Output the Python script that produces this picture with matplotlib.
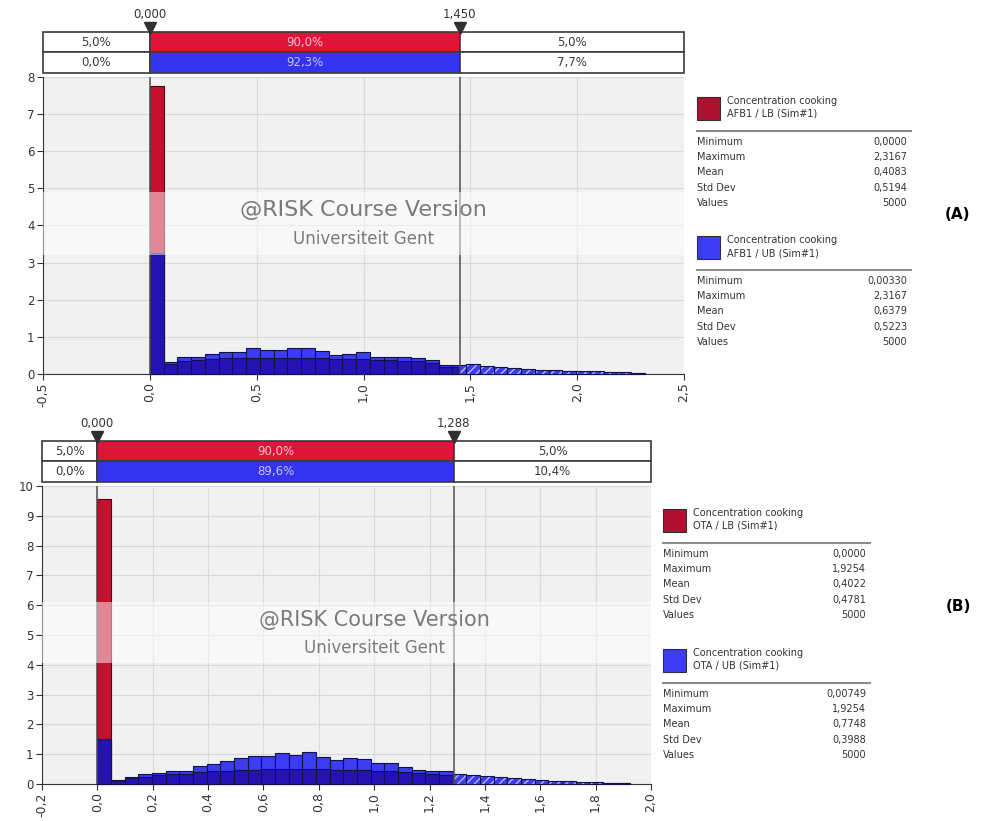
import numpy as np
import matplotlib.pyplot as plt
from matplotlib.patches import Rectangle
from matplotlib.transforms import blended_transform_factory

W, H = 982, 821

# (A) AFB1 - density per bin, 36 bins on [0, max]
afb1_max = 2.3167
afb1_ub = [3.25, 0.31, 0.47, 0.47, 0.53, 0.58, 0.58, 0.69, 0.65, 0.65, 0.69, 0.69,
           0.62, 0.50, 0.54, 0.58, 0.47, 0.47, 0.47, 0.42, 0.38, 0.24, 0.24,
           0.28, 0.22, 0.20, 0.16, 0.14, 0.12, 0.10, 0.09, 0.08, 0.07, 0.06, 0.05, 0.04]
afb1_lb = [7.75, 0.28, 0.36, 0.38, 0.40, 0.42, 0.42, 0.44, 0.44, 0.44, 0.44, 0.44,
           0.42, 0.40, 0.40, 0.40, 0.38, 0.38, 0.36, 0.34, 0.30, 0.20, 0.18,
           0.20, 0.16, 0.14, 0.12, 0.10, 0.09, 0.08, 0.07, 0.06, 0.05, 0.04, 0.03, 0.03]
afb1_cut = (0.000, 1.450)
afb1_lb_pct = ["5,0%", "90,0%", "5,0%"]
afb1_ub_pct = ["0,0%", "92,3%", "7,7%"]
afb1_stats_lb = ["0,0000", "2,3167", "0,4083", "0,5194", "5000"]
afb1_stats_ub = ["0,00330", "2,3167", "0,6379", "0,5223", "5000"]

# (B) OTA - density per bin, 39 bins on [0, max]
ota_max = 1.9254
ota_ub = [1.50, 0.13, 0.25, 0.32, 0.36, 0.43, 0.43, 0.60, 0.68, 0.78, 0.87, 0.94,
          0.94, 1.03, 0.97, 1.06, 0.92, 0.81, 0.88, 0.83, 0.71, 0.70, 0.57, 0.46, 0.42,
          0.42, 0.33, 0.30, 0.26, 0.22, 0.20, 0.16, 0.13, 0.11, 0.09, 0.07, 0.06, 0.04, 0.03]
ota_lb = [9.55, 0.10, 0.20, 0.25, 0.30, 0.35, 0.35, 0.40, 0.42, 0.45, 0.47, 0.48,
          0.50, 0.50, 0.50, 0.50, 0.50, 0.48, 0.48, 0.47, 0.45, 0.42, 0.40, 0.36, 0.32,
          0.30, 0.24, 0.22, 0.19, 0.16, 0.14, 0.12, 0.10, 0.08, 0.07, 0.05, 0.04, 0.03, 0.02]
ota_cut = (0.000, 1.288)
ota_lb_pct = ["5,0%", "90,0%", "5,0%"]
ota_ub_pct = ["0,0%", "89,6%", "10,4%"]
ota_stats_lb = ["0,0000", "1,9254", "0,4022", "0,4781", "5000"]
ota_stats_ub = ["0,00749", "1,9254", "0,7748", "0,3988", "5000"]

stat_names = ["Minimum", "Maximum", "Mean", "Std Dev", "Values"]

RED = "#c8102e"
RED_BAND = "#e0143a"
BLUE = "#3c3cf2"
BLUE_DARK = "#2412b4"
EDGE = "#12124a"
BG = "#f1f1f1"
GRID = "#d9d9d9"


def box(px_left, px_top, px_right, px_bottom):
    return [px_left / W, 1 - px_bottom / H, (px_right - px_left) / W, (px_bottom - px_top) / H]


def fmt(v, nd):
    return f"{v:.{nd}f}".replace(".", ",")


def clipped(ax, patches, x0, x1):
    for p in patches:
        clip = Rectangle((x0, -1), x1 - x0, 100, transform=ax.transData)
        p.set_clip_path(clip)


def histogram(ax, xmax_data, ub, lb, cut, xlim, ylim, xstep, wm):
    n = len(ub)
    edges = np.linspace(0, xmax_data, n + 1)
    w = edges[1] - edges[0]
    ub = np.array(ub)
    lb = np.array(lb)
    ax.set_facecolor(BG)
    ax.set_xlim(*xlim)
    ax.set_ylim(*ylim)

    ax.bar(edges[:-1], lb, width=w, align="edge", color=RED, edgecolor="#4a0010", lw=0.8, zorder=2)
    plain = ax.bar(edges[:-1], ub, width=w, align="edge", color=BLUE, edgecolor=EDGE, lw=0.8, zorder=3)
    clipped(ax, plain, xlim[0], cut[1])
    both = ax.bar(edges[:-1], np.minimum(ub, lb), width=w, align="edge", color=BLUE_DARK,
                  edgecolor=EDGE, lw=0.8, zorder=3.1)
    clipped(ax, both, xlim[0], cut[1])
    # tail outside the delimiters is hatched
    tail = ax.bar(edges[:-1], ub, width=w, align="edge", color=BLUE, edgecolor="#b8b8ff",
                  lw=0, hatch="////", zorder=3)
    clipped(ax, tail, cut[1], xlim[1])
    outl = ax.bar(edges[:-1], ub, width=w, align="edge", fill=False, edgecolor=EDGE, lw=0.8, zorder=3.2)
    clipped(ax, outl, cut[1], xlim[1])

    for c in cut:
        ax.axvline(c, color="#505050", lw=1.1, zorder=4)

    xt = np.round(np.arange(xlim[0], xlim[1] + xstep / 2, xstep), 3)
    ax.set_xticks(xt)
    ax.set_xticklabels([fmt(v, 1) for v in xt], rotation=90, fontsize=9, color="#333333")
    yt = np.arange(ylim[0], ylim[1] + 1)
    ax.set_yticks(yt)
    ax.set_yticklabels([str(v) for v in yt], fontsize=8.5, color="#333333")
    ax.grid(True, color=GRID, lw=0.8, zorder=0)
    ax.set_axisbelow(True)
    for s in ["top", "right"]:
        ax.spines[s].set_visible(False)
    for s in ["left", "bottom"]:
        ax.spines[s].set_color("#333333")
    ax.tick_params(direction="out", length=4, color="#333333", pad=2)

    # watermark band
    tr = blended_transform_factory(ax.transAxes, ax.transData)
    ax.add_patch(Rectangle((0, wm["band"][0]), 1, wm["band"][1] - wm["band"][0], transform=tr,
                           color="white", alpha=0.5, lw=0, zorder=5))
    ax.text(wm["x"], wm["y1"], "@RISK Course Version", ha="center", va="center",
            fontsize=wm["fs1"], color="#7a7a7a", zorder=6)
    ax.text(wm["x"], wm["y2"], "Universiteit Gent", ha="center", va="center",
            fontsize=wm["fs2"], color="#7a7a7a", zorder=6)


def band(bax, xlim, cut, lb_pct, ub_pct):
    bax.set_xlim(*xlim)
    bax.set_ylim(0, 2)
    bax.axis("off")
    segs = [(xlim[0], cut[0]), (cut[0], cut[1]), (cut[1], xlim[1])]
    rows = [(1, lb_pct, RED_BAND, "#f6c6ce"), (0, ub_pct, "#3434ee", "#c4c4ff")]
    for y0, labels, col, tcol in rows:
        for k, ((a, b), lab) in enumerate(zip(segs, labels)):
            face = col if k == 1 else "white"
            bax.add_patch(Rectangle((a, y0), b - a, 1, facecolor=face, edgecolor="#3a3a3a",
                                    lw=1.2, clip_on=False))
            bax.text((a + b) / 2, y0 + 0.5, lab, ha="center", va="center", fontsize=8.5,
                     color=tcol if k == 1 else "#3a3a3a")
    bax.plot(cut, [2.18, 2.18], ls="none", marker="v", ms=8, color="#303030", clip_on=False)
    for c in cut:
        bax.annotate(fmt(c, 3), (c, 2), xytext=(0, 8), textcoords="offset points",
                     ha="center", va="bottom", fontsize=8.5, color="#333333")


def legend(fig, x0, x1, ytop, name, lb_vals, ub_vals, gap):
    def fx(px):
        return px / W

    def fy(py):
        return 1 - py / H

    for off, var, col, vals in [(0, "LB", "#b01030", lb_vals), (gap, "UB", "#3c3cf5", ub_vals)]:
        y = ytop + off
        fig.patches.append(Rectangle((fx(x0), fy(y + 23)), 23 / W, 23 / H, transform=fig.transFigure,
                                     facecolor=col, edgecolor="#303030", lw=0.8))
        fig.text(fx(x0 + 30), fy(y + 4), "Concentration cooking", fontsize=7, color="#333333", va="center")
        fig.text(fx(x0 + 30), fy(y + 17), f"{name} / {var} (Sim#1)", fontsize=7, color="#333333", va="center")
        fig.lines.append(plt.Line2D([fx(x0), fx(x1)], [fy(y + 34), fy(y + 34)], transform=fig.transFigure,
                                    color="#8c8c8c", lw=1.5))
        for i, (nm, v) in enumerate(zip(stat_names, vals)):
            yy = fy(y + 45 + i * 15.2)
            fig.text(fx(x0), yy, nm, fontsize=7, color="#333333", va="center")
            fig.text(fx(x1 - 4), yy, v, fontsize=7, color="#333333", va="center", ha="right")


fig = plt.figure(figsize=(W / 100, H / 100), dpi=100)

ax1 = fig.add_axes(box(43, 77, 684, 374))
bx1 = fig.add_axes(box(43, 32, 684, 73))
histogram(ax1, afb1_max, afb1_ub, afb1_lb, afb1_cut, (-0.5, 2.5), (0, 8), 0.5,
          dict(band=(3.2, 4.9), x=1.0, y1=4.42, y2=3.64, fs1=16, fs2=12))
band(bx1, (-0.5, 2.5), afb1_cut, afb1_lb_pct, afb1_ub_pct)

ax2 = fig.add_axes(box(42, 486, 651, 784))
bx2 = fig.add_axes(box(42, 441, 651, 482))
histogram(ax2, ota_max, ota_ub, ota_lb, ota_cut, (-0.2, 2.0), (0, 10), 0.2,
          dict(band=(4.05, 6.1), x=1.0, y1=5.5, y2=4.56, fs1=15, fs2=12))
band(bx2, (-0.2, 2.0), ota_cut, ota_lb_pct, ota_ub_pct)

legend(fig, 697, 911, 97, "AFB1", afb1_stats_lb, afb1_stats_ub, 139)
legend(fig, 663, 870, 509, "OTA", ota_stats_lb, ota_stats_ub, 140)

fig.text(958 / W, 1 - 214 / H, "(A)", fontsize=11, fontweight="bold", ha="center", va="center")
fig.text(958 / W, 1 - 606 / H, "(B)", fontsize=11, fontweight="bold", ha="center", va="center")

fig.savefig("out.png", dpi=100, facecolor="white")
